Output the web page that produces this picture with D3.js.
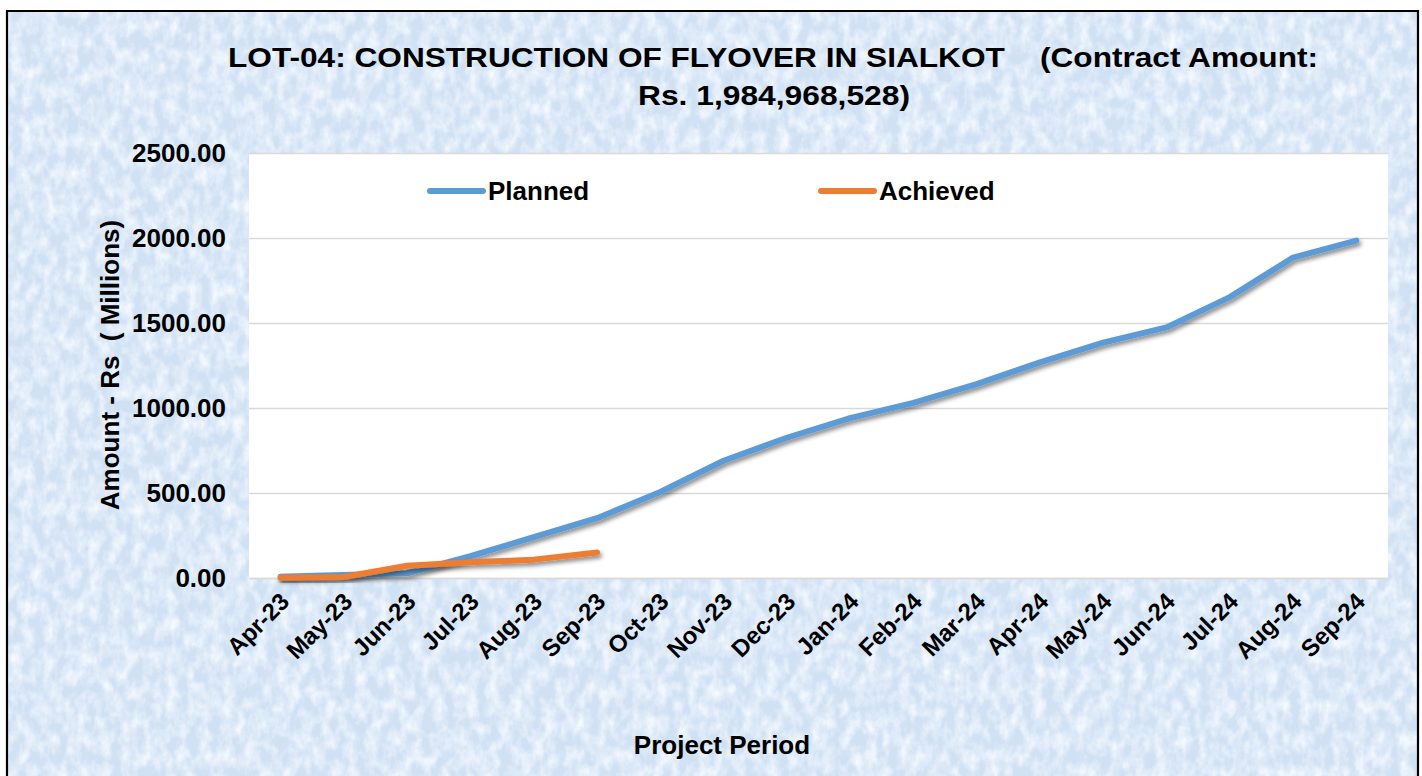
<!DOCTYPE html>
<html><head><meta charset="utf-8">
<script src="https://cdn.jsdelivr.net/npm/d3@7"></script>
<style>html,body{margin:0;padding:0;background:#fff;}svg{display:block;font-family:"Liberation Sans",Arial,sans-serif;}</style>
</head><body>
<svg id="c" width="1422" height="776"></svg>
<script>
const months = ["Apr-23","May-23","Jun-23","Jul-23","Aug-23","Sep-23","Oct-23","Nov-23","Dec-23","Jan-24","Feb-24","Mar-24","Apr-24","May-24","Jun-24","Jul-24","Aug-24","Sep-24"];
const planned = [8, 18, 28, 128, 240, 352, 506, 690, 825, 940, 1030, 1140, 1268, 1385, 1474, 1652, 1885, 1984.97];
const achieved = [2, 6, 72, 92, 108, 150];
const yTicks = [0, 500, 1000, 1500, 2000, 2500];
const titleLines = ["LOT-04: CONSTRUCTION OF FLYOVER IN SIALKOT    (Contract Amount:", "Rs. 1,984,968,528)"];
const seriesNames = ["Planned", "Achieved"];
const colors = ["#5b9bd5", "#ed7d31"];

const svg = d3.select("#c");
const defs = svg.append("defs");
const tex = defs.append("filter").attr("id","tex").attr("x",0).attr("y",0).attr("width","100%").attr("height","100%");
tex.append("feTurbulence").attr("type","fractalNoise").attr("baseFrequency","0.09 0.06").attr("numOctaves",4).attr("seed",7).attr("result","n");
tex.append("feColorMatrix").attr("in","n").attr("type","matrix")
  .attr("values","0 0 0 0 0.93  0 0 0 0 0.96  0 0 0 0 1  0 0 0 -1.8 1.2").attr("result","c");
tex.append("feComposite").attr("in","c").attr("in2","SourceGraphic").attr("operator","in");
const sh = defs.append("filter").attr("id","sh").attr("x","-5%").attr("y","-20%").attr("width","110%").attr("height","140%");
sh.append("feDropShadow").attr("dx",2).attr("dy",3).attr("stdDeviation",2).attr("flood-color","#000").attr("flood-opacity",0.45);

svg.append("rect").attr("x",7).attr("y",11).attr("width",1411).attr("height",775).attr("fill","#d0e1f4");
svg.append("rect").attr("x",7).attr("y",11).attr("width",1411).attr("height",775).attr("fill","#fff").attr("filter","url(#tex)");
svg.append("path").attr("d","M7,786 V11 H1418 V786").attr("fill","none").attr("stroke","#000").attr("stroke-width",2.2);

const m = {l:249, r:1388, t:153, b:578};
const x = d3.scaleBand().domain(months).range([m.l, m.r]);
const y = d3.scaleLinear().domain([0,2500]).range([m.b, m.t]);

svg.append("rect").attr("x",m.l).attr("y",m.t).attr("width",m.r-m.l).attr("height",m.b-m.t).attr("fill","#fff");

const gy = svg.append("g").attr("transform",`translate(${m.l},0)`)
  .call(d3.axisLeft(y).tickValues(yTicks).tickSize(-(m.r-m.l)).tickFormat(d=>d3.format(".2f")(d)).tickPadding(23));
gy.select(".domain").remove();
gy.selectAll(".tick line").attr("stroke","#d9d9d9").attr("stroke-width",1.6);
gy.selectAll(".tick text").attr("font-size",26).attr("font-weight","bold").attr("fill","#000").attr("font-family","'Liberation Sans',Arial,sans-serif");

const gx = svg.append("g").attr("transform",`translate(0,${m.b})`)
  .call(d3.axisBottom(x).tickSize(0).tickPadding(0));
gx.select(".domain").attr("stroke","#d9d9d9").attr("stroke-width",1.6);
gx.selectAll(".tick text").attr("font-size",24).attr("font-weight","bold").attr("fill","#000")
  .attr("font-family","'Liberation Sans',Arial,sans-serif")
  .attr("text-anchor","end").attr("dy",0)
  .attr("transform","translate(10,25) rotate(-45)");

const line = d3.line().x((d,i)=>x(months[i])+x.bandwidth()/2).y(d=>y(d));
[planned, achieved].forEach((s,k)=>{
  svg.append("path").datum(s).attr("d",line).attr("fill","none").attr("stroke",colors[k])
    .attr("stroke-width",6).attr("stroke-linecap","round").attr("stroke-linejoin","round").attr("filter","url(#sh)");
});

const lg = [{x0:430,x1:483,tx:488},{x0:821,x1:874,tx:879}];
seriesNames.forEach((n,k)=>{
  svg.append("line").attr("x1",lg[k].x0).attr("x2",lg[k].x1).attr("y1",191).attr("y2",191)
    .attr("stroke",colors[k]).attr("stroke-width",6).attr("stroke-linecap","round");
  svg.append("text").attr("x",lg[k].tx).attr("y",200).attr("font-size",26).attr("font-weight","bold").text(n);
});

svg.append("text").attr("x",773).attr("y",67).attr("text-anchor","middle").attr("font-size",28).attr("font-weight","bold")
  .style("white-space","pre").attr("textLength",1090).attr("lengthAdjust","spacingAndGlyphs").text(titleLines[0]);
svg.append("text").attr("x",774).attr("y",105).attr("text-anchor","middle").attr("font-size",28).attr("font-weight","bold")
  .attr("textLength",272).attr("lengthAdjust","spacingAndGlyphs").text(titleLines[1]);

svg.append("text").attr("transform","translate(119,365) rotate(-90)").attr("text-anchor","middle")
  .attr("font-size",26).attr("font-weight","bold").style("white-space","pre").text("Amount - Rs  ( Millions)");
svg.append("text").attr("x",722).attr("y",754).attr("text-anchor","middle").attr("font-size",26).attr("font-weight","bold").text("Project Period");
</script>
</body></html>
